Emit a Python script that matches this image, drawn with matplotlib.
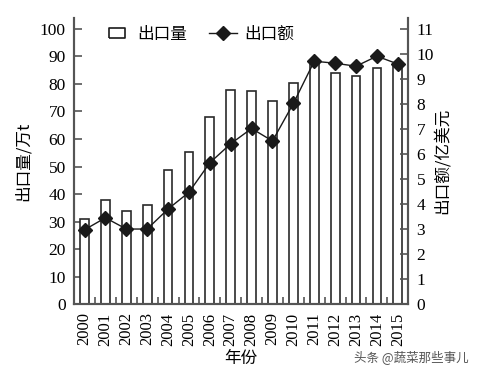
import numpy as np
import matplotlib.pyplot as plt
from matplotlib.lines import Line2D
from matplotlib.path import Path

plt.rcParams['font.family'] = ['Liberation Serif', 'Noto Sans CJK SC']

years = ['2000', '2001', '2002', '2003', '2004', '2005', '2006', '2007',
         '2008', '2009', '2010', '2011', '2012', '2013', '2014', '2015']
volume = [31.0, 37.9, 34.0, 35.9, 48.8, 55.2, 67.9, 77.9,
          77.3, 73.9, 80.3, 87.8, 83.9, 82.8, 85.7, 86.6]
value = [2.97, 3.45, 3.0, 3.0, 3.80, 4.47, 5.65, 6.41,
         7.02, 6.52, 8.02, 9.71, 9.63, 9.51, 9.91, 9.60]

cjk = ['Noto Sans CJK SC']
spine_c = '#555555'

fig = plt.figure(figsize=(4.78, 3.74), dpi=100)
ax = fig.add_axes([0.155, 0.187, 0.699, 0.765])
ax2 = ax.twinx()

x = np.arange(len(years))
ax.bar(x, volume, width=0.42, facecolor='white', edgecolor='#2a2a2a',
       linewidth=1.2, zorder=2)
line, = ax2.plot(x, value, color='#1a1a1a', marker='D', markersize=7,
                 linewidth=1.0, zorder=3)

ax.set_xlim(-0.5, 15.5)
ax.set_ylim(0, 104)
ax2.set_ylim(0, 11.44)
ax.set_yticks(np.arange(0, 101, 10))
ax2.set_yticks(np.arange(0, 12, 1))

ax.set_xticks(x)
ax.set_xticklabels(years, rotation=90, fontsize=12)
ax.set_xticks(np.arange(-0.5, 16, 1), minor=True)
ax.tick_params(axis='x', which='major', length=0, pad=6)
ax.tick_params(axis='x', which='minor', direction='in', length=5,
               color=spine_c, width=1.2)
ax.tick_params(axis='y', direction='in', length=6, color=spine_c,
               width=1.2, labelsize=12.5, pad=6)
ax2.tick_params(axis='y', direction='in', length=6, color=spine_c,
                width=1.2, labelsize=12.5, pad=6)

for a in (ax, ax2):
    a.spines['top'].set_visible(False)
    for s in ('left', 'right', 'bottom'):
        a.spines[s].set_color(spine_c)
        a.spines[s].set_linewidth(1.5)

ax.set_xlabel('年份', family=cjk, fontsize=12, labelpad=3)
ax.set_ylabel('出口量/万t', family=cjk, fontsize=12, labelpad=6)
ax2.set_ylabel('出口额/亿美元', family=cjk, fontsize=12, labelpad=0)

# legend: small open rectangle for bars, line with diamond for value
box = Path([(-1.5, -1), (1.5, -1), (1.5, 1), (-1.5, 1), (-1.5, -1)])
box_handle = Line2D([], [], linestyle='none', marker=box, markersize=11,
                    markerfacecolor='white', markeredgecolor='#1a1a1a',
                    markeredgewidth=1.2)
ax.legend([box_handle, line], ['出口量', '出口额'], loc='upper left',
          bbox_to_anchor=(0.04, 1.025), ncol=2, frameon=False,
          prop={'family': cjk, 'size': 12}, handlelength=1.7,
          columnspacing=1.3, handletextpad=0.4)

fig.text(0.74, 0.035, '头条 @蔬菜那些事儿', family=cjk, fontsize=9,
         color='#555555')

fig.savefig('out.png', dpi=100)
